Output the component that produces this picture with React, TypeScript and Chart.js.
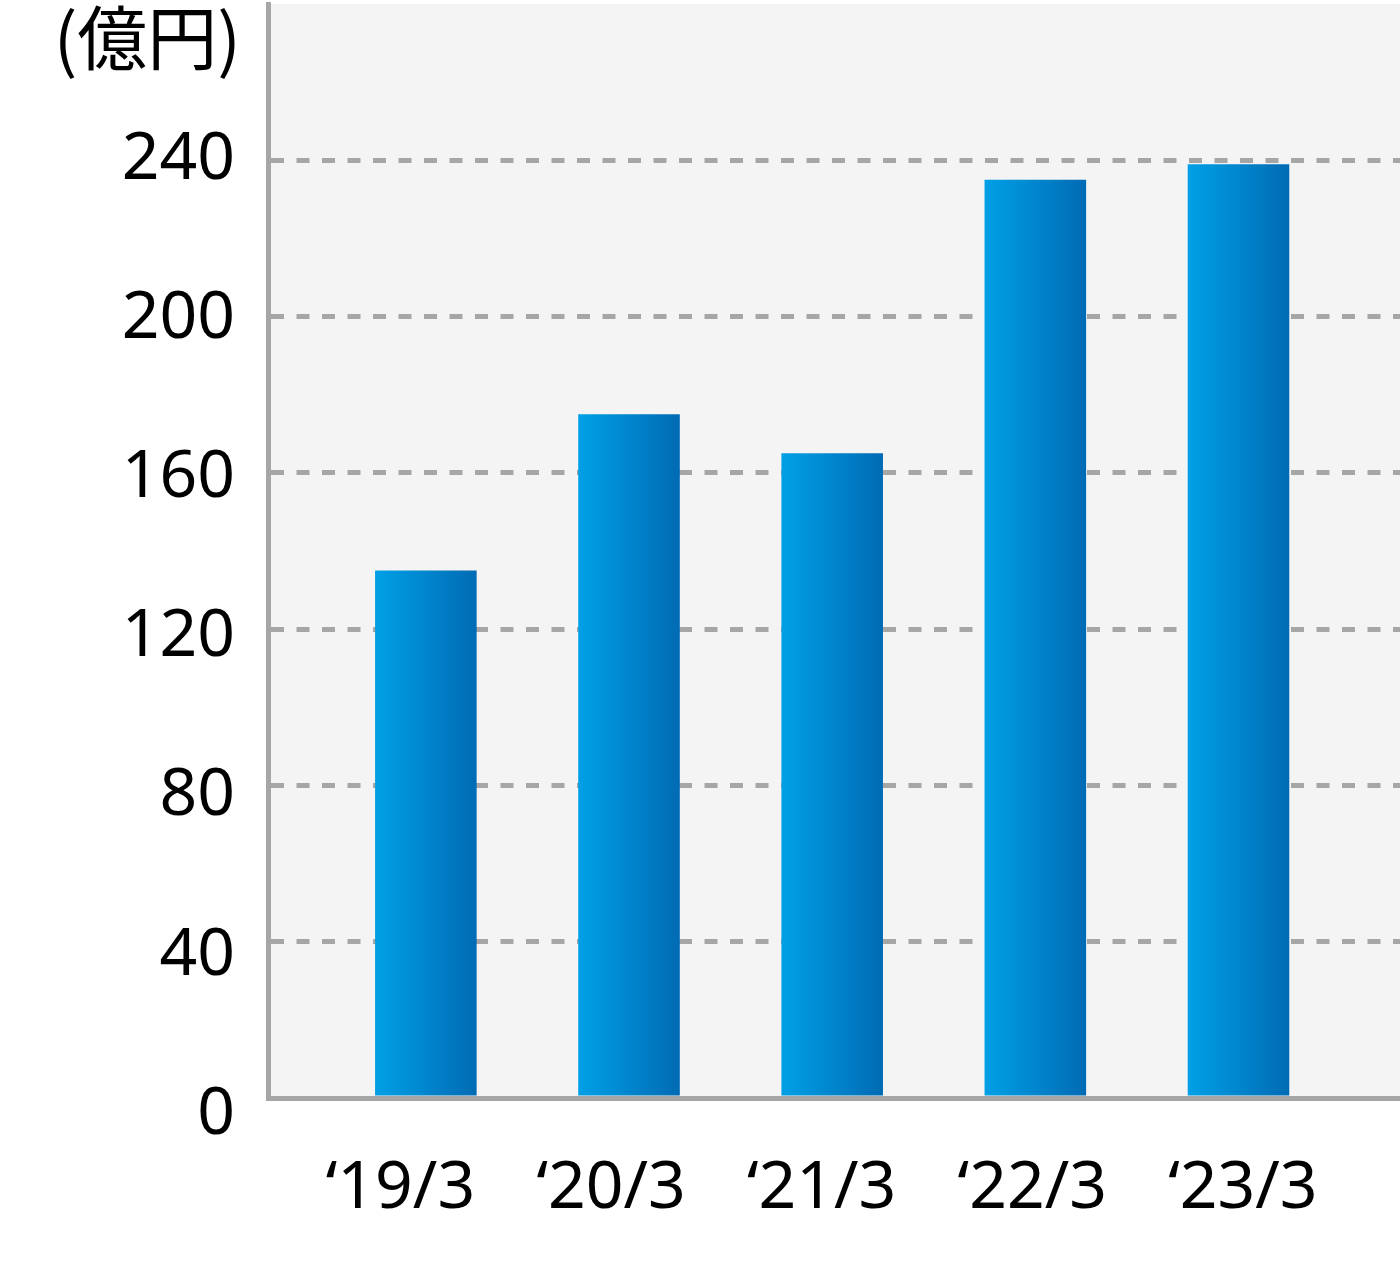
import React, { useEffect, useRef } from "react";
import { Chart, registerables, ChartConfiguration, Plugin } from "chart.js";

Chart.register(...registerables);

// data
const categories = ["\u201819/3", "\u201820/3", "\u201821/3", "\u201822/3", "\u201823/3"];
const values = [135, 175, 165, 235, 239];
const yTicks = [0, 40, 80, 120, 160, 200, 240];
const unitLabel = "(億円)";

const FONT = "'Noto Sans', 'Noto Sans CJK JP', sans-serif";
const AXIS_GREY = "#a6a6a6";

const App: React.FC = () => {
  const canvasRef = useRef<HTMLCanvasElement | null>(null);
  const chartRef = useRef<Chart<"bar"> | null>(null);

  useEffect(() => {
    document.body.style.margin = "0";
    const canvas = canvasRef.current;
    if (!canvas) return;
    const ctx = canvas.getContext("2d");
    if (!ctx) return;

    if (chartRef.current) chartRef.current.destroy();

    const plotBackground: Plugin<"bar"> = {
      id: "plotBackground",
      beforeDraw(chart) {
        const { ctx, chartArea } = chart;
        ctx.save();
        ctx.fillStyle = "#f4f4f4";
        ctx.fillRect(chartArea.left, chartArea.top, chartArea.right - chartArea.left, chartArea.bottom - chartArea.top);
        ctx.restore();
      },
    };

    const unitText: Plugin<"bar"> = {
      id: "unitText",
      afterDraw(chart) {
        const { ctx } = chart;
        ctx.save();
        ctx.font = `70px 'Noto Sans CJK JP', sans-serif`;
        ctx.fillStyle = "#000";
        ctx.textAlign = "right";
        ctx.textBaseline = "middle";
        ctx.fillText(unitLabel, 241, 38);
        ctx.restore();
      },
    };

    const barGradient = (c: any) => {
      const chart = c.chart as Chart;
      const xs = chart.scales.xb;
      if (!chart.chartArea || !xs) return "#0088d0";
      const cx = xs.getPixelForValue(c.dataIndex);
      const half = (xs.getPixelForValue(1) - xs.getPixelForValue(0)) / 4;
      const g = chart.ctx.createLinearGradient(cx - half, 0, cx + half, 0);
      g.addColorStop(0, "#00a0e6");
      g.addColorStop(1, "#006bb4");
      return g;
    };

    const noPad = (s: any) => {
      s.paddingTop = 0;
      s.paddingBottom = 0;
      s.paddingLeft = 0;
      s.paddingRight = 0;
    };

    const categoryTicks = (s: any) => {
      s.ticks = categories.map((_, i) => ({ value: i }));
    };

    const config: ChartConfiguration<"bar"> = {
      type: "bar",
      data: {
        datasets: [
          {
            data: values.map((v, i) => ({ x: i, y: v })) as any,
            xAxisID: "xb",
            yAxisID: "yb",
            backgroundColor: barGradient,
            borderWidth: 0,
            categoryPercentage: 1,
            barPercentage: 0.5,
          },
        ],
      },
      options: {
        animation: false,
        responsive: false,
        maintainAspectRatio: false,
        layout: { padding: { top: 4, right: 0, left: 0, bottom: 0 } },
        plugins: {
          legend: { display: false },
          tooltip: { enabled: false },
        },
        scales: {
          // bar positions
          xb: {
            type: "linear",
            display: false,
            position: "bottom",
            min: -0.777,
            max: 4.795,
            offset: false,
            afterBuildTicks: categoryTicks,
          },
          // category labels and bottom axis line
          x: {
            type: "linear",
            position: "bottom",
            min: -0.629,
            max: 4.746,
            offset: false,
            afterBuildTicks: categoryTicks,
            afterFit: (s: any) => {
              s.height = 175;
              noPad(s);
            },
            grid: { display: false, drawTicks: false },
            border: { display: true, color: AXIS_GREY, width: 5 },
            ticks: {
              autoSkip: false,
              maxRotation: 0,
              padding: 52,
              color: "#000",
              font: { family: FONT, size: 66 },
              callback: (v: any) => categories[v as number] ?? "",
            },
          },
          // value scale for bars and dashed grid lines
          yb: {
            type: "linear",
            position: "left",
            weight: 0,
            min: 0,
            max: 280,
            afterBuildTicks: (s: any) => {
              s.ticks = yTicks.map((v) => ({ value: v }));
            },
            afterFit: (s: any) => {
              s.width = 0;
              noPad(s);
            },
            grid: { color: AXIS_GREY, lineWidth: 5, drawTicks: false },
            border: { display: true, color: AXIS_GREY, width: 5, dash: [13, 12.5] },
            ticks: { display: false },
          },
          // value labels
          y: {
            type: "linear",
            position: "left",
            weight: 1,
            min: 4.26,
            max: 279.2,
            afterBuildTicks: (s: any) => {
              s.ticks = yTicks.map((v) => ({ value: v }));
            },
            afterFit: (s: any) => {
              s.width = 268;
              noPad(s);
            },
            grid: { display: false, drawTicks: false },
            border: { display: false },
            ticks: {
              autoSkip: false,
              padding: 33,
              color: "#000",
              font: { family: FONT, size: 66 },
            },
          },
        },
      },
      plugins: [plotBackground, unitText],
    };

    chartRef.current = new Chart(ctx, config);

    return () => {
      if (chartRef.current) {
        chartRef.current.destroy();
        chartRef.current = null;
      }
    };
  }, []);

  return (
    <div style={{ width: 1400, height: 1273 }}>
      <canvas ref={canvasRef} width={1400} height={1273} style={{ display: "block" }} />
    </div>
  );
};

export default App;
